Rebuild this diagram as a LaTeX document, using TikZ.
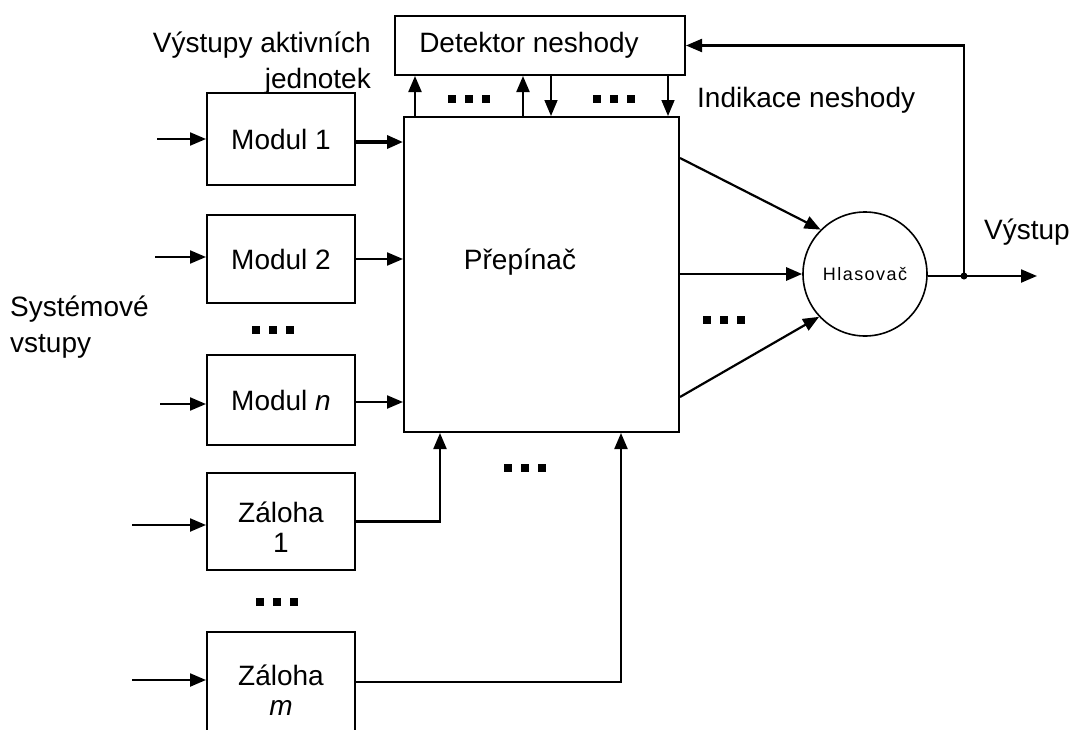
\documentclass[tikz,border=0pt]{standalone}
\usepackage{fontspec}
\setmainfont{Liberation Sans}
\usetikzlibrary{arrows.meta,calc}
\newcommand\lbl{\fontsize{28}{36}\selectfont}
\tikzset{
  box/.style={draw, line width=2pt, inner sep=0pt, align=center, font=\lbl},
  arr/.style={line width=2.2pt, -{Triangle[length=16pt,width=13pt]}},
  txt/.style={inner sep=0pt, font=\lbl},
  tdots/.pic={\foreach \i in {0,17,34} \fill (\i,-4) rectangle ++(8,8);}
}
\begin{document}
\begin{tikzpicture}[x=1pt,y=-1pt]
\clip (0,0) rectangle (1072,729);
\fill[white] (0,0) rectangle (1072,729);

% boxes
\node[box, minimum width=290, minimum height=59] (det) at (540,45.5) {Detektor neshody\hspace*{22pt}};
\node[box, minimum width=275, minimum height=315] (sw) at (541.5,274.5) {};
\node[txt] (swl) at (520,262) {Přepínač};
\node[box, minimum width=148, minimum height=92] (m1) at (281,139) {Modul 1};
\node[box, minimum width=148, minimum height=88] (m2) at (281,259) {Modul 2};
\node[box, minimum width=148, minimum height=90] (mn) at (281,400) {Modul \textit{n}};
\node[box, minimum width=148, minimum height=97] (z1) at (281,521.5) {\rule{0pt}{32pt}Záloha\\[-6pt]1};
\node[box, minimum width=148, minimum height=100, text depth=0pt] (zm) at (281,682) {\rule{0pt}{36pt}Záloha\\[-6pt]\textit{m}};
\node[draw, circle, line width=1.6pt, minimum size=124, inner sep=0pt,
      font=\fontsize{18}{20}\selectfont\addfontfeature{LetterSpace=8}] (vote) at (865,274) {Hlasovač};

% labels
\node[txt, anchor=east, align=right] (vya) at (371,63) {Výstupy aktivních\\jednotek};
\node[txt, anchor=west] (ind) at (697,100) {Indikace neshody};
\node[txt, anchor=west, align=left] (sys) at (10,327) {Systémové\\vstupy};
\node[txt] (vys) at (1027,232) {Výstup};

% inputs
\coordinate (i1) at (157,139);
\coordinate (i2) at (155,257);
\coordinate (in) at (160,404);
\coordinate (iz1) at (132,525);
\coordinate (izm) at (132,680);
\draw[arr] (i1) -- (i1 -| m1.west);
\draw[arr] (i2) -- (i2 -| m2.west);
\draw[arr] (in) -- (in -| mn.west);
\draw[arr] (iz1) -- (iz1 -| z1.west);
\draw[arr] (izm) -- (izm -| zm.west);

% module outputs to switch
\draw[arr, line width=3.5pt] (m1.east |- 0,142) -- (sw.west |- 0,142);
\draw[arr] (m2.east) -- (sw.west |- m2.east);
\draw[arr] (mn.east |- 0,402) -- (sw.west |- 0,402);
\draw[arr] (z1.east) -| (sw.south -| 440,0);
\draw[arr] (zm.east) -| (sw.south -| 621,0);

% switch <-> detector
\draw[arr] (sw.north -| 415,0) -- (det.south -| 415,0);
\draw[arr] (sw.north -| 523,0) -- (det.south -| 523,0);
\draw[arr, line width=1.6pt] (det.south -| 551,0) -- (sw.north -| 551,0);
\draw[arr, line width=1.6pt] (det.south -| 668,0) -- (sw.north -| 668,0);

% switch -> voter
\draw[arr] (sw.east |- 0,158) -- (vote.135);
\draw[arr, line width=2.8pt] (sw.east |- vote.west) -- (vote.west);
\draw[arr] (sw.east |- 0,397) -- (vote.223);

% output and feedback
\coordinate (j) at (964,276);
\coordinate (out) at (1037,276);
\draw[arr] (vote.east |- j) -- (out);
\fill (j) circle (3.5);
\draw[arr] (j) |- (det.east);

% ellipsis marks
\pic at (252,330) {tdots};
\pic at (256,602) {tdots};
\pic at (504,468) {tdots};
\pic at (703,320) {tdots};
\pic at (448,99) {tdots};
\pic at (593,99) {tdots};
\end{tikzpicture}
\end{document}
